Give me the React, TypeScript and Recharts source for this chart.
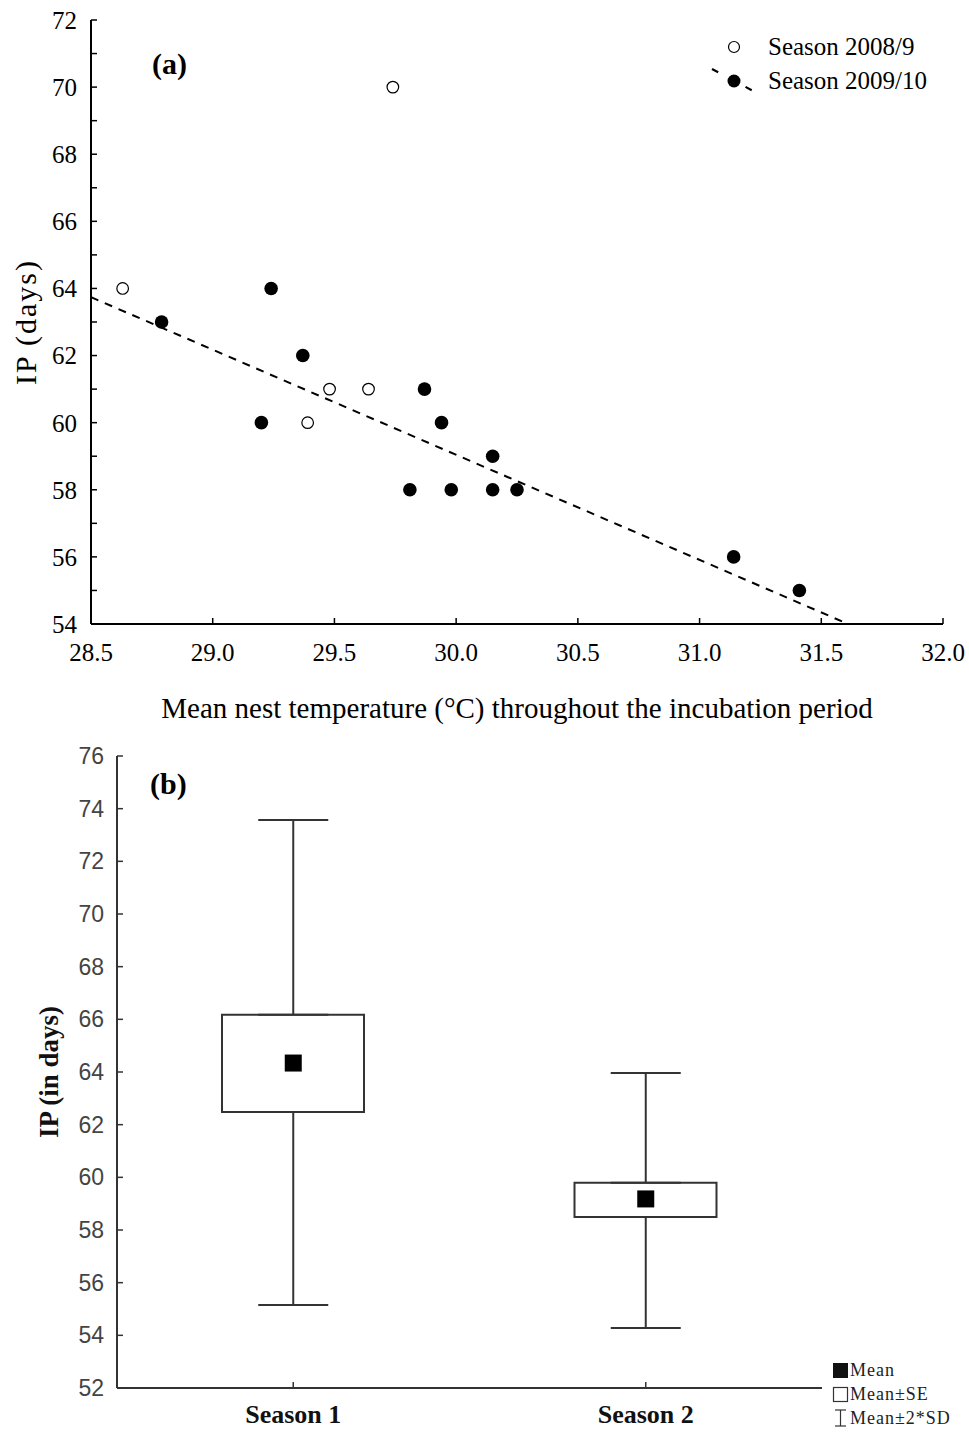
import {
	ScatterChart,
	ComposedChart,
	Scatter,
	Bar,
	ErrorBar,
	XAxis,
	YAxis,
	ReferenceLine,
} from "recharts";

const SERIF = '"Liberation Serif", "Times New Roman", serif';
const SANS = '"Liberation Sans", Arial, sans-serif';

// panel (a): mean nest temperature vs incubation period
const season0809Temp = [28.63, 29.74, 29.48, 29.64, 29.39];
const season0809IP = [64, 70, 61, 61, 60];
const season0910Temp = [
	28.79, 29.24, 29.37, 29.2, 29.87, 29.94, 29.81, 29.98, 30.15, 30.15, 30.25,
	31.14, 31.41,
];
const season0910IP = [63, 64, 62, 60, 61, 60, 58, 58, 59, 58, 58, 56, 55];
const tempTicks = [28.5, 29.0, 29.5, 30.0, 30.5, 31.0, 31.5, 32.0];
const ipTicksA = [54, 55, 56, 57, 58, 59, 60, 61, 62, 63, 64, 65, 66, 67, 68, 69, 70, 71, 72];
// fitted line end points
const fitStart = { x: 28.5, y: 63.74 };
const fitEnd = { x: 31.61, y: 54 };

// panel (b): incubation period per season
const seasons = ["Season 1", "Season 2"];
const means = [64.34, 59.18];
const seLow = [62.48, 58.49];
const seHigh = [66.17, 59.79];
const sdLow = [55.15, 54.28];
const sdHigh = [73.57, 63.96];
const ipTicksB = [52, 54, 56, 58, 60, 62, 64, 66, 68, 70, 72, 74, 76];

const data0809 = season0809Temp.map((t, i) => ({ temp: t, ip: season0809IP[i] }));
const data0910 = season0910Temp.map((t, i) => ({ temp: t, ip: season0910IP[i] }));

const boxData = seasons.map((s, i) => ({
	season: s,
	mean: means[i],
	box: [seLow[i], seHigh[i]],
	seLow: seLow[i],
	seHigh: seHigh[i],
	upErr: [0, sdHigh[i] - seHigh[i]],
	downErr: [seLow[i] - sdLow[i], 0],
}));

const OpenDot = (p: any) => (
	<circle cx={p.cx} cy={p.cy} r={5.8} fill="#fff" stroke="#000" strokeWidth={1.2} />
);
const FilledDot = (p: any) => <circle cx={p.cx} cy={p.cy} r={6.8} fill="#000" />;
const MeanSquare = (p: any) => (
	<rect x={p.cx - 8.5} y={p.cy - 8.5} width={17} height={17} fill="#000" />
);
const NoShape = () => <g />;

function LegendA() {
	const row = { display: "flex", alignItems: "center", height: 34 };
	return (
		<div
			style={{
				position: "absolute",
				left: 700,
				top: 30,
				fontFamily: SERIF,
				fontSize: 25,
				color: "#000",
			}}
		>
			<div style={row}>
				<svg width={68} height={34}>
					<circle cx={34} cy={17} r={5.5} fill="#fff" stroke="#000" strokeWidth={1.2} />
				</svg>
				<span>Season 2008/9</span>
			</div>
			<div style={row}>
				<svg width={68} height={34}>
					<line x1={12} y1={5} x2={57} y2={29} stroke="#000" strokeWidth={2.2} strokeDasharray="7 31" />
					<circle cx={34} cy={17} r={6.5} fill="#000" />
				</svg>
				<span>Season 2009/10</span>
			</div>
		</div>
	);
}

function LegendB() {
	const row = { display: "flex", alignItems: "center", height: 24 };
	return (
		<div
			style={{
				position: "absolute",
				left: 832,
				top: 1358,
				fontFamily: SERIF,
				fontSize: 18,
				letterSpacing: 1,
				color: "#222",
			}}
		>
			<div style={row}>
				<svg width={18} height={18}>
					<rect x={1} y={2} width={15} height={15} fill="#111" />
				</svg>
				<span>Mean</span>
			</div>
			<div style={row}>
				<svg width={18} height={18}>
					<rect x={1.5} y={2.5} width={14} height={14} fill="#fff" stroke="#333" strokeWidth={1.2} />
				</svg>
				<span>Mean±SE</span>
			</div>
			<div style={row}>
				<svg width={18} height={20}>
					<line x1={3} y1={2} x2={14} y2={2} stroke="#333" strokeWidth={1.2} />
					<line x1={8.5} y1={2} x2={8.5} y2={18} stroke="#333" strokeWidth={1.2} />
					<line x1={3} y1={18} x2={14} y2={18} stroke="#333" strokeWidth={1.2} />
				</svg>
				<span>Mean±2*SD</span>
			</div>
		</div>
	);
}

export default function App() {
	const tickA = { fill: "#000", fontSize: 25, fontFamily: SERIF };
	const tickB = { fill: "#444", fontSize: 23, fontFamily: SANS };
	const panelTag = { position: "absolute" as const, fontFamily: SERIF, fontWeight: "bold", fontSize: 30, lineHeight: 1 };
	return (
		<div style={{ position: "absolute", left: 0, top: 0, width: 969, height: 1432, background: "#fff" }}>
			<div style={{ position: "absolute", left: 0, top: 0 }}>
				<ScatterChart width={969} height={730} margin={{ top: 20, right: 26, left: 10, bottom: 6 }}>
					<XAxis
						type="number"
						dataKey="temp"
						domain={[28.5, 32]}
						ticks={tempTicks}
						interval={0}
						tickFormatter={(v: number) => v.toFixed(1)}
						height={100}
						axisLine={{ stroke: "#000", strokeWidth: 2 }}
						tickLine={{ stroke: "#000", strokeWidth: 1.5 }}
						tickSize={-6}
						tickMargin={25}
						tick={tickA}
						label={{
							value: "Mean nest temperature (°C) throughout the incubation period",
							position: "insideBottom",
							offset: 6,
							style: { fontSize: 29, fontFamily: SERIF, fill: "#000" },
						}}
					/>
					<YAxis
						type="number"
						dataKey="ip"
						domain={[54, 72]}
						ticks={ipTicksA}
						interval={0}
						tickFormatter={(v: number) => (v % 2 === 0 ? String(v) : "")}
						width={81}
						axisLine={{ stroke: "#000", strokeWidth: 2 }}
						tickLine={{ stroke: "#000", strokeWidth: 1.5 }}
						tickSize={-6}
						tickMargin={20}
						tick={tickA}
						label={{
							value: "IP (days)",
							angle: -90,
							position: "insideLeft",
							offset: 15,
							style: { textAnchor: "middle", fontSize: 30, letterSpacing: 2, fontFamily: SERIF, fill: "#000" },
						}}
					/>
					<ReferenceLine
						segment={[fitStart, fitEnd]}
						stroke="#000"
						strokeWidth={2}
						strokeDasharray="8 7"
					/>
					<Scatter name="Season 2008/9" data={data0809} shape={OpenDot} isAnimationActive={false} />
					<Scatter name="Season 2009/10" data={data0910} shape={FilledDot} isAnimationActive={false} />
				</ScatterChart>
			</div>
			<div style={{ ...panelTag, left: 152, top: 49 }}>(a)</div>
			<LegendA />

			<div style={{ position: "absolute", left: 0, top: 730 }}>
				<ComposedChart width={969} height={702} data={boxData} margin={{ top: 26, right: 147, left: 10, bottom: 4 }}>
					<XAxis
						dataKey="season"
						type="category"
						height={40}
						axisLine={{ stroke: "#333", strokeWidth: 2 }}
						tickLine={{ stroke: "#333", strokeWidth: 1.5 }}
						tickSize={-6}
						tickMargin={23}
						tick={{ fill: "#111", fontSize: 26, fontFamily: SERIF, fontWeight: "bold" }}
					/>
					<YAxis
						type="number"
						domain={[52, 76]}
						ticks={ipTicksB}
						interval={0}
						allowDataOverflow
						width={107}
						axisLine={{ stroke: "#333", strokeWidth: 2 }}
						tickLine={{ stroke: "#333", strokeWidth: 1.5 }}
						tickSize={-6}
						tickMargin={19}
						tick={tickB}
						label={{
							value: "IP (in days)",
							angle: -90,
							position: "insideLeft",
							offset: 38,
							style: { textAnchor: "middle", fontSize: 27, fontFamily: SERIF, fontWeight: "bold", fill: "#111" },
						}}
					/>
					<Bar dataKey="box" barSize={142} fill="#fff" stroke="#333" strokeWidth={2} isAnimationActive={false} />
					<Scatter dataKey="seHigh" shape={NoShape} isAnimationActive={false}>
						<ErrorBar dataKey="upErr" direction="y" width={35} stroke="#333" strokeWidth={2} isAnimationActive={false} />
					</Scatter>
					<Scatter dataKey="seLow" shape={NoShape} isAnimationActive={false}>
						<ErrorBar dataKey="downErr" direction="y" width={35} stroke="#333" strokeWidth={2} isAnimationActive={false} />
					</Scatter>
					<Scatter dataKey="mean" shape={MeanSquare} isAnimationActive={false} />
				</ComposedChart>
			</div>
			<div style={{ ...panelTag, left: 150, top: 769 }}>(b)</div>
			<LegendB />
		</div>
	);
}
